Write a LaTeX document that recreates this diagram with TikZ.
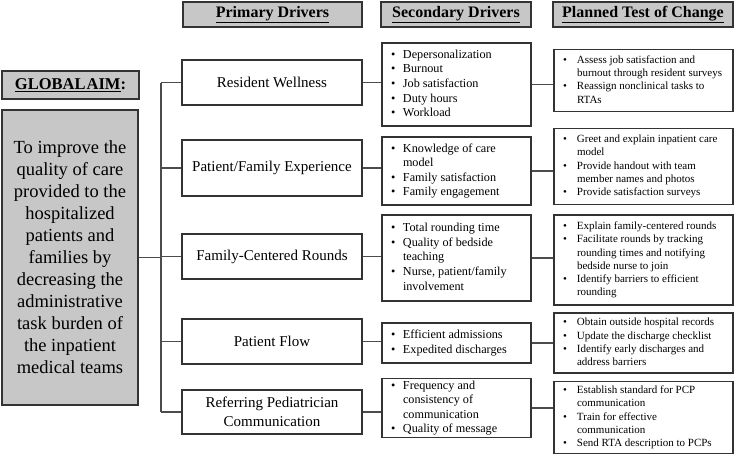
\documentclass[tikz,border=0pt]{standalone}
\usepackage{fontspec}
\usepackage{array}
\setmainfont{Liberation Serif}
\newcommand{\slist}[1]{\begin{tabular}{@{\hspace{9pt}}p{12pt}@{}p{128pt}@{}}#1\end{tabular}}
\newcommand{\tlist}[1]{\begin{tabular}{@{\hspace{9pt}}p{14pt}@{}p{156pt}@{}}#1\end{tabular}}
\newcommand{\bl}{\textbullet &}
\begin{document}
\begin{tikzpicture}[x=1pt,y=-1pt,
  box/.style={draw=black!80, line width=1.1pt, fill=white, inner sep=0pt, align=center},
  hdr/.style={box, fill=black!22, font=\fontsize{16}{19}\selectfont\bfseries},
  prim/.style={box, minimum width=180pt, font=\fontsize{15}{18.5}\selectfont},
  sec/.style={draw=black!80, line width=1.1pt, fill=white, inner sep=0pt, minimum width=149pt, font=\fontsize{12.2}{14.6}\selectfont},
  tst/.style={draw=black!80, line width=1.1pt, fill=white, inner sep=0pt, minimum width=179pt, font=\fontsize{11}{13.3}\selectfont},
  conn/.style={draw=black!70, line width=1.1pt}]
\useasboundingbox (0,0) rectangle (736,455);
% headers
\node[hdr, minimum width=179pt, minimum height=25pt] (hp) at (272.5,14.5) {\underline{Primary Drivers}};
\node[hdr, minimum width=150pt, minimum height=25pt] (hs) at (456,14.5) {\underline{Secondary Drivers}};
\node[hdr, minimum width=180pt, minimum height=25pt] (ht) at (643,14.5) {\underline{Planned Test of Change}};
% global aim
\node[hdr, minimum width=137pt, minimum height=28pt, font=\fontsize{16.5}{19}\selectfont\bfseries] (gah) at (70.5,85) {\underline{GLOBAL\kern1pt AIM}:};
\node[box, fill=black!22, minimum width=136pt, minimum height=295pt, font=\fontsize{18.5}{22}\selectfont] (ga) at (70,257.5)
  {To improve the\\quality of care\\provided to the\\hospitalized\\patients and\\families by\\decreasing the\\administrative\\task burden of\\the inpatient\\medical teams};
% primary
\node[prim, minimum height=45pt] (p1) at (272,82.5) {Resident Wellness};
\node[prim, minimum height=56pt] (p2) at (272,168) {Patient/Family Experience};
\node[prim, minimum height=45pt] (p3) at (272,256.5) {Family-Centered Rounds};
\node[prim, minimum height=45pt] (p4) at (272,341.5) {Patient Flow};
\node[prim, minimum height=44pt] (p5) at (272,412) {Referring Pediatrician\\Communication};
% secondary
\node[sec, minimum height=83pt] (s1) at (456.5,84.5) {\slist{\bl Depersonalization\\ \bl Burnout\\ \bl Job satisfaction\\ \bl Duty hours\\ \bl Workload}};
\node[sec, minimum height=68pt] (s2) at (456.5,171) {\slist{\bl Knowledge of care\newline model\\ \bl Family satisfaction\\ \bl Family engagement}};
\node[sec, minimum height=86pt] (s3) at (456.5,258) {\slist{\bl Total rounding time\\ \bl Quality of bedside\newline teaching\\ \bl Nurse, patient/family\newline involvement}};
\node[sec, minimum height=40pt] (s4) at (456.5,343) {\slist{\bl Efficient admissions\\ \bl Expedited discharges}};
\node[sec, minimum height=58pt] (s5) at (456.5,408) {\slist{\bl Frequency and\newline consistency of\newline communication\\ \bl Quality of message}};
% planned tests
\node[tst, minimum height=62pt] (t1) at (643.5,80.5) {\tlist{\bl Assess job satisfaction and\newline burnout through resident surveys\\ \bl Reassign nonclinical tasks to\newline RTAs}};
\node[tst, minimum height=76pt] (t2) at (643.5,166.5) {\tlist{\bl Greet and explain inpatient care\newline model\\ \bl Provide handout with team\newline member names and photos\\ \bl Provide satisfaction surveys}};
\node[tst, minimum height=90pt] (t3) at (643.5,260) {\tlist{\bl Explain family-centered rounds\\ \bl Facilitate rounds by tracking\newline rounding times and notifying\newline bedside nurse to join\\ \bl Identify barriers to efficient\newline rounding}};
\node[tst, minimum height=60pt] (t4) at (643.5,343) {\tlist{\bl Obtain outside hospital records\\ \bl Update the discharge checklist\\ \bl Identify early discharges and\newline address barriers}};
\node[tst, minimum height=72pt] (t5) at (643.5,417.5) {\tlist{\bl Establish standard for PCP\newline communication\\ \bl Train for effective\newline communication\\ \bl Send RTA description to PCPs}};
% connectors
\coordinate (bt) at (161,82.5);
\coordinate (bb) at (161,412);
\draw[conn] (bt) -- (bb);
\draw[conn] (ga.east) -- (ga.east -| bt);
\foreach \i in {1,...,5}{
  \draw[conn] (p\i.west) -- (p\i.west -| bt);
  \draw[conn] (p\i.east) -- (p\i.east -| s\i.west);
  \draw[conn] (s\i.east) -- (s\i.east -| t\i.west);
}
\end{tikzpicture}
\end{document}
